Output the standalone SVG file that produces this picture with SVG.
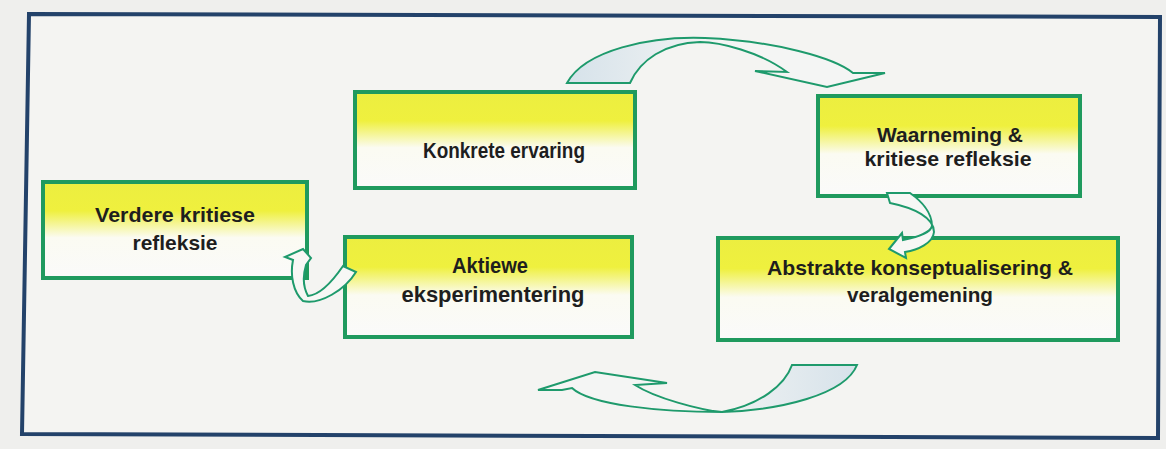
<svg xmlns="http://www.w3.org/2000/svg" width="1166" height="449" viewBox="0 0 1166 449">
<defs>
<linearGradient id="yel" x1="0" y1="0" x2="0" y2="1">
<stop offset="0" stop-color="#ecee40"/>
<stop offset="0.3" stop-color="#eff03e"/>
<stop offset="0.58" stop-color="#fbfbf2"/>
<stop offset="1" stop-color="#fafafa"/>
</linearGradient>
<linearGradient id="topFill" x1="567" y1="0" x2="720" y2="0" gradientUnits="userSpaceOnUse">
<stop offset="0" stop-color="#d6e2ea"/>
<stop offset="1" stop-color="#f4f5f4"/>
</linearGradient>
<linearGradient id="botFill" x1="857" y1="0" x2="700" y2="0" gradientUnits="userSpaceOnUse">
<stop offset="0" stop-color="#d6e2ea"/>
<stop offset="1" stop-color="#f4f5f4"/>
</linearGradient>
<style>
.box{fill:url(#yel);stroke:#1f9a5e;stroke-width:4}
.t{font-family:"Liberation Sans",Arial,sans-serif;font-weight:bold;font-size:22px;fill:#1e1e1e;text-anchor:middle}
.s{font-size:21px}
.arr{stroke:#1e9a6c;stroke-width:2;stroke-linejoin:miter}
</style>
</defs>
<rect x="0" y="0" width="1166" height="449" fill="#efefed"/>
<polygon points="29,14 1160,17 1158,438 22,434" fill="#f4f4f2" stroke="#23426a" stroke-width="4"/>

<g id="konkrete">
<rect class="box" x="355" y="92" width="280" height="96"/>
<text class="t" x="504" y="158" textLength="162" lengthAdjust="spacingAndGlyphs">Konkrete ervaring</text>
</g>
<g id="waarneming">
<rect class="box" x="818" y="96" width="262" height="100"/>
<text class="t s" x="950" y="142" textLength="146" lengthAdjust="spacingAndGlyphs">Waarneming &amp;</text>
<text class="t s" x="948" y="166" textLength="167" lengthAdjust="spacingAndGlyphs">kritiese refleksie</text>
</g>
<g id="abstrakte">
<rect class="box" x="718" y="238" width="400" height="102"/>
<text class="t s" x="920" y="275" textLength="306" lengthAdjust="spacingAndGlyphs">Abstrakte konseptualisering &amp;</text>
<text class="t s" x="920" y="302" textLength="146" lengthAdjust="spacingAndGlyphs">veralgemening</text>
</g>
<g id="verdere">
<rect class="box" x="43" y="182" width="264" height="96"/>
<text class="t s" x="175" y="222" textLength="160" lengthAdjust="spacingAndGlyphs">Verdere kritiese</text>
<text class="t s" x="175" y="250" textLength="85" lengthAdjust="spacingAndGlyphs">refleksie</text>
</g>
<g id="aktiewe">
<rect class="box" x="345" y="237" width="287" height="100"/>
<text class="t" x="490" y="273" textLength="76" lengthAdjust="spacingAndGlyphs">Aktiewe</text>
<text class="t" x="493" y="302" textLength="183" lengthAdjust="spacingAndGlyphs">eksperimentering</text>
</g>

<g id="connectors">
<path class="arr" fill="url(#topFill)" d="M 567 83 C 585 50, 650 36, 705 38 C 775 41, 835 58, 853 73 L 885 73 L 827 87 L 755 71 L 787 72 C 760 52, 720 42, 700 42 C 665 43, 640 60, 630 83 Z"/>
<path class="arr" fill="#f7f7f5" d="M 887 193 L 890 203 C 915 208, 934 218, 934 232 C 933 243, 918 250, 905 252 L 906 258 L 889 249 L 902 233 L 903 240 C 918 237, 931 232, 932 226 C 932 212, 920 200, 910 193 Z"/>
<path class="arr" fill="#f7f7f5" d="M 343 266 C 330 285, 318 295, 308 296 C 302 285, 303 275, 306 265 L 311 258 L 303 249 L 285 257 L 293 260 C 290 275, 293 292, 303 301 C 320 305, 345 290, 356 272 Z"/>
<path class="arr" fill="url(#botFill)" d="M 857 365 C 845 395, 780 410, 722 412 C 660 412, 590 405, 572 388 L 562 390 L 538 390 L 595 372 L 667 383 L 635 385 C 655 398, 700 410, 722 412 C 760 405, 785 385, 792 365 Z"/>
</g>
</svg>
